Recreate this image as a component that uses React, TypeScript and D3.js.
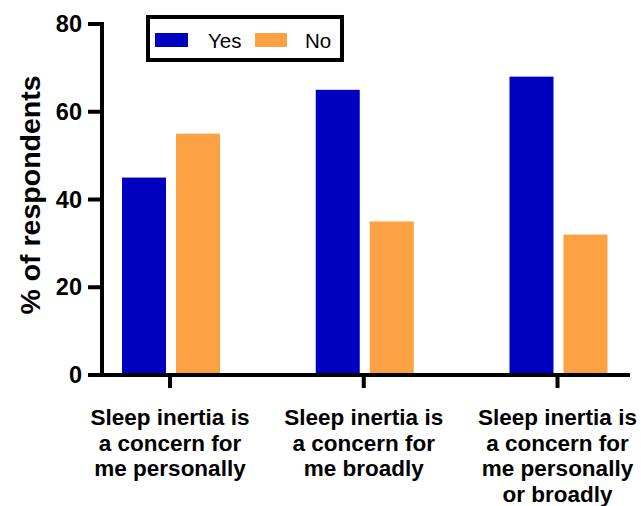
import React from "react";
import * as d3 from "d3";

const categories: string[][] = [
  ["Sleep inertia is", "a concern for", "me personally"],
  ["Sleep inertia is", "a concern for", "me broadly"],
  ["Sleep inertia is", "a concern for", "me personally", "or broadly"],
];
const categoryKeys = ["personally", "broadly", "either"];
const seriesNames = ["Yes", "No"];
const yesValues = [45, 65, 68];
const noValues = [55, 35, 32];
const yTicks = [0, 20, 40, 60, 80];
const yTitle = "% of respondents";

const COLORS: Record<string, string> = { Yes: "#0000C0", No: "#FBA043" };
const FONT = "'Liberation Sans', Arial, Helvetica, sans-serif";

export default function App() {
  const W = 641;
  const H = 506;
  const y = d3.scaleLinear().domain([0, 80]).range([375, 24]);
  const x = d3.scalePoint<string>().domain(categoryKeys).range([170, 557.5]);
  const inner = d3
    .scaleBand<string>()
    .domain(seriesNames)
    .range([-48, 50])
    .paddingInner(0.185)
    .paddingOuter(0);
  const axisX0 = 102;
  const axisY0 = y(0);
  const valuesBySeries: Record<string, number[]> = { Yes: yesValues, No: noValues };

  return (
    <svg
      width={W}
      height={H}
      style={{ position: "absolute", left: 0, top: 0, background: "#fff" }}
      fontFamily={FONT}
    >
      {/* bars */}
      {seriesNames.map((s) =>
        categoryKeys.map((c, i) => {
          const v = valuesBySeries[s][i];
          const bx = (x(c) as number) + (inner(s) as number);
          return (
            <rect
              key={s + c}
              x={bx}
              y={y(v)}
              width={inner.bandwidth()}
              height={axisY0 - 2 - y(v)}
              fill={COLORS[s]}
            />
          );
        })
      )}

      {/* y axis */}
      <line x1={axisX0} x2={axisX0} y1={y(80) - 2} y2={axisY0 + 2} stroke="#000" strokeWidth={4} />
      {yTicks.map((t) => (
        <g key={t}>
          <line x1={88} x2={axisX0} y1={y(t)} y2={y(t)} stroke="#000" strokeWidth={4} />
          <text
            x={82}
            y={y(t)}
            dy="0.35em"
            textAnchor="end"
            fontSize={23.5}
            fontWeight="bold"
            fill="#000"
          >
            {t}
          </text>
        </g>
      ))}

      {/* x axis */}
      <line x1={axisX0 - 2} x2={630} y1={axisY0} y2={axisY0} stroke="#000" strokeWidth={4} />
      {categoryKeys.map((c, i) => (
        <g key={c}>
          <line
            x1={x(c) as number}
            x2={x(c) as number}
            y1={axisY0}
            y2={axisY0 + 13}
            stroke="#000"
            strokeWidth={4}
          />
          <text textAnchor="middle" fontSize={22.5} fontWeight="bold" fill="#000">
            {categories[i].map((line, j) => (
              <tspan key={j} x={x(c) as number} y={425 + j * 25.7}>
                {line}
              </tspan>
            ))}
          </text>
        </g>
      ))}

      {/* y title */}
      <text
        transform={`translate(40, 195) rotate(-90)`}
        textAnchor="middle"
        fontSize={28.5}
        fontWeight="bold"
        fill="#000"
      >
        {yTitle}
      </text>

      {/* legend */}
      <rect x={148} y={17} width={194} height={43} fill="#fff" stroke="#000" strokeWidth={4} />
      <rect x={155} y={33} width={33} height={14} fill={COLORS.Yes} />
      <text x={208} y={48} fontSize={20.5} fill="#000">
        {seriesNames[0]}
      </text>
      <rect x={255} y={33} width={32} height={14} fill={COLORS.No} />
      <text x={305} y={48} fontSize={20.5} fill="#000">
        {seriesNames[1]}
      </text>
    </svg>
  );
}
